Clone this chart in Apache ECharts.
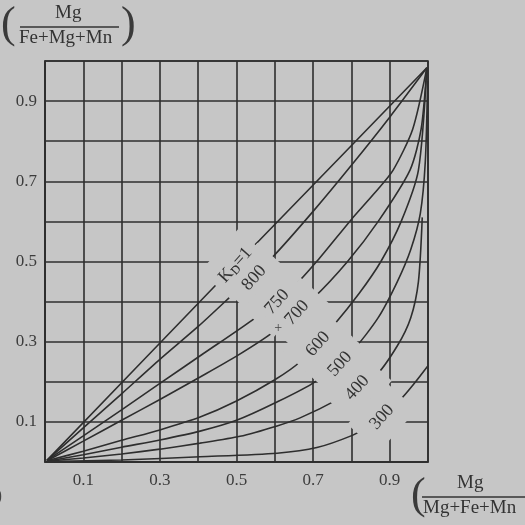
<!DOCTYPE html>
<html>
<head>
<meta charset="utf-8">
<script src="https://cdn.jsdelivr.net/npm/echarts@6/dist/echarts.min.js"></script>
<style>
  html, body { margin: 0; padding: 0; background: #c6c6c6; }
  #main { width: 525px; height: 525px; }
</style>
</head>
<body>
<div id="main"></div>
<script>
// tick labels (only the odd tenths are printed)
var tickLabels = ['0.1', '0.3', '0.5', '0.7', '0.9']

// curves, [x, y]
var kd1 = [[0.005, 0.004], [0.455, 0.45], [0.56, 0.553], [0.997, 0.983]]
var t800 = [[0.005, 0.004], [0.1, 0.085], [0.2, 0.17], [0.3, 0.256], [0.4, 0.338], [0.488, 0.416],
  [0.595, 0.512], [0.7, 0.625], [0.8, 0.74], [0.9, 0.86], [0.997, 0.983]]
var t750 = [[0.005, 0.004], [0.1, 0.065], [0.2, 0.13], [0.3, 0.196], [0.41, 0.268], [0.548, 0.359],
  [0.658, 0.446], [0.713, 0.504], [0.8, 0.605], [0.86, 0.67], [0.909, 0.728], [0.96, 0.83], [0.997, 0.983]]
var t700 = [[0.005, 0.003], [0.1, 0.052], [0.2, 0.104], [0.3, 0.156], [0.405, 0.212], [0.5, 0.264], [0.593, 0.322],
  [0.7, 0.408], [0.79, 0.5], [0.87, 0.6], [0.953, 0.728], [0.982, 0.83], [0.997, 0.983]]
var t600 = [[0.005, 0.003], [0.1, 0.027], [0.2, 0.054], [0.3, 0.08], [0.405, 0.112], [0.5, 0.152], [0.6, 0.205], [0.666, 0.25],
  [0.757, 0.345], [0.82, 0.42], [0.877, 0.5], [0.93, 0.6], [0.975, 0.728], [0.997, 0.983]]
var t500 = [[0.005, 0.002], [0.1, 0.018], [0.2, 0.037], [0.3, 0.055], [0.405, 0.077], [0.5, 0.104], [0.6, 0.147], [0.705, 0.2],
  [0.804, 0.279], [0.87, 0.36], [0.92, 0.45], [0.955, 0.53], [0.98, 0.62], [0.993, 0.75], [0.999, 0.95]]
var t400 = [[0.005, 0.002], [0.1, 0.01], [0.2, 0.02], [0.3, 0.032], [0.405, 0.047], [0.509, 0.064], [0.606, 0.09], [0.666, 0.11], [0.762, 0.155],
  [0.862, 0.214], [0.92, 0.29], [0.955, 0.36], [0.975, 0.45], [0.985, 0.61]]
var t300 = [[0.005, 0.001], [0.2, 0.005], [0.405, 0.013], [0.606, 0.022], [0.71, 0.036], [0.804, 0.067], [0.836, 0.085],
  [0.927, 0.155], [0.965, 0.197], [1.0, 0.24]]

// curve labels and where they sit on the curves
var curveNames = ['K{d|D}=1', '800', '750', '700', '600', '500', '400', '300']
var labelPos = [[0.497, 0.491], [0.546, 0.459], [0.606, 0.399], [0.658, 0.372], [0.713, 0.294], [0.77, 0.244], [0.815, 0.185], [0.88, 0.112]]
var plusPos = [0.609, 0.333]

var curves = [kd1, t800, t750, t700, t600, t500, t400, t300]

var bg = '#c6c6c6'
var ink = '#2e2e2e'
var serif = '"Liberation Serif", "DejaVu Serif", serif'

var myChart = echarts.init(document.getElementById('main'))

function oddTick (v) {
  var s = v.toFixed(1)
  return tickLabels.indexOf(s) >= 0 ? s : ''
}

var series = curves.map(function (c) {
  return {
    type: 'line',
    data: c,
    showSymbol: false,
    smooth: 0.25,
    lineStyle: { color: ink, width: 1.6 },
    z: 2,
    silent: true
  }
})

var axisCommon = {
  type: 'value',
  min: 0,
  max: 1,
  interval: 0.1,
  axisLine: { show: true, lineStyle: { color: ink, width: 1.6 } },
  axisTick: { show: false },
  splitLine: { show: true, lineStyle: { color: ink, width: 1.6 } }
}

var option = {
  backgroundColor: bg,
  animation: false,
  grid: {
    left: 45,
    top: 61,
    width: 383,
    height: 401,
    show: true,
    borderColor: ink,
    borderWidth: 1.6,
    backgroundColor: 'transparent'
  },
  xAxis: Object.assign({}, axisCommon, {
    axisLabel: { formatter: oddTick, color: '#3c3c3c', fontFamily: serif, fontSize: 17, margin: 10, showMinLabel: false, showMaxLabel: false }
  }),
  yAxis: Object.assign({}, axisCommon, {
    axisLabel: { formatter: oddTick, color: '#3c3c3c', fontFamily: serif, fontSize: 17, margin: 8, showMinLabel: false, showMaxLabel: false }
  }),
  series: series
}

myChart.setOption(option)

var graphics = [
  // y axis title
  { type: 'text', left: 1, top: 3, style: { text: '(', font: '44px ' + serif, fill: '#3a3a3a' } },
  { type: 'text', left: 55, top: 4, style: { text: 'Mg', font: '19px ' + serif, fill: '#333' } },
  { type: 'line', shape: { x1: 20, y1: 27, x2: 119, y2: 27 }, style: { stroke: '#333', lineWidth: 1.3 } },
  { type: 'text', left: 19, top: 29, style: { text: 'Fe+Mg+Mn', font: '19px ' + serif, fill: '#333' } },
  { type: 'text', left: 121, top: 3, style: { text: ')', font: '44px ' + serif, fill: '#3a3a3a' } },
  // x axis title
  { type: 'text', left: 411, top: 474, style: { text: '(', font: '44px ' + serif, fill: '#3a3a3a' } },
  { type: 'text', left: 457, top: 474, style: { text: 'Mg', font: '19px ' + serif, fill: '#333' } },
  { type: 'line', shape: { x1: 422, y1: 497, x2: 525, y2: 497 }, style: { stroke: '#333', lineWidth: 1.3 } },
  { type: 'text', left: 423, top: 499, style: { text: 'Mg+Fe+Mn', font: '19px ' + serif, fill: '#333' } },
  // stray mark of the scan at the left edge
  { type: 'text', left: -4, top: 487, style: { text: ')', font: '18px ' + serif, fill: '#444' } }
]

// curve labels: first a background patch for each (cuts the lines), then the texts on top
var rot = 48 * Math.PI / 180
var rich = { d: { font: '12px ' + serif, fill: '#333', padding: [8, 0, 0, 0] } }
labelPos.forEach(function (p, i) {
  var px = myChart.convertToPixel({ gridIndex: 0 }, p)
  var padH = i === 0 ? 8 : 15
  graphics.push({
    type: 'text', x: px[0], y: px[1], rotation: rot, z: 50,
    style: { text: curveNames[i], font: '18px ' + serif, fill: 'rgba(0,0,0,0)', align: 'center', verticalAlign: 'middle',
      backgroundColor: bg, padding: [12, padH], rich: rich }
  })
})
labelPos.forEach(function (p, i) {
  var px = myChart.convertToPixel({ gridIndex: 0 }, p)
  graphics.push({
    type: 'text', x: px[0], y: px[1], rotation: rot, z: 60,
    style: { text: curveNames[i], font: '18px ' + serif, fill: '#333', align: 'center', verticalAlign: 'middle', rich: rich }
  })
})
var pp = myChart.convertToPixel({ gridIndex: 0 }, plusPos)
graphics.push({
  type: 'text', x: pp[0], y: pp[1], z: 70,
  style: { text: '+', font: '14px ' + serif, fill: '#444', align: 'center', verticalAlign: 'middle' }
})

myChart.setOption({ graphic: graphics })
</script>
</body>
</html>
